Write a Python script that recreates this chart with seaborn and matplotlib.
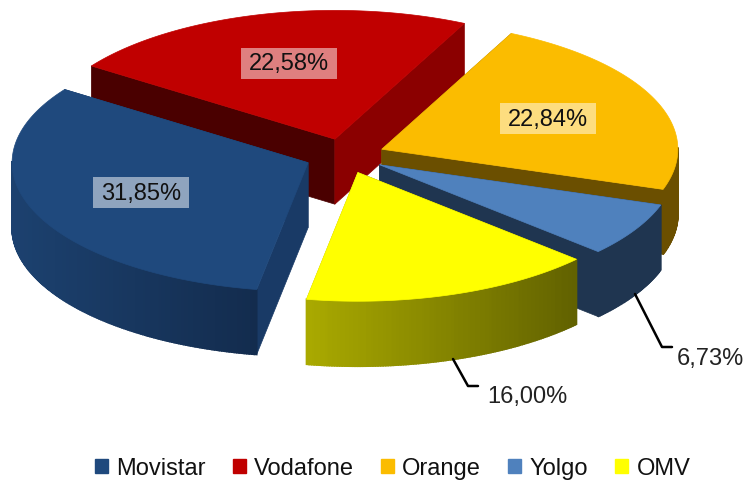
import numpy as np
import matplotlib
matplotlib.use("Agg")
import matplotlib.pyplot as plt
from matplotlib.patches import Patch, Rectangle
import seaborn as sns

# --- DATA ---
operators = ["Movistar", "Vodafone", "Orange", "Yolgo", "OMV"]
shares = [31.85, 22.58, 22.84, 6.73, 16.00]
share_labels = ["31,85%", "22,58%", "22,84%", "6,73%", "16,00%"]

# --- COLOURS ---
top_colors = ["#1f497d", "#c00000", "#fbbc00", "#4f81bd", "#ffff00"]
wall_from = ["#1c416f", "#8b0000", "#6b4f00", "#1f3550", "#a9a900"]
wall_to = ["#132c4e", "#8b0000", "#6b4f00", "#1f3550", "#626200"]
cut_start_colors = ["#193a66", "#4a0000", "#8b6600", "#1f3550", "#626200"]
cut_end_colors = ["#193a66", "#8b0000", "#6b4f00", "#1f3550", "#a9a900"]

# --- LAYOUT (pixels of the 750x481 picture) ---
CENTER = (345, 157)
RADIUS = 296
SQUASH = 0.435
EXPLODE = 40
DEPTH = 65
START_ANGLE = -100
DRAW_ORDER = [1, 2, 3, 0, 4]
INSIDE_LABEL_AT = 0.61
LABEL_BOX = (96, 31)
leaders = {
    3: ([635, 662, 672], [295, 348, 348], (677, 359)),
    4: ([453, 468, 478], [360, 387, 387], (487, 397)),
}

sns.set_theme(style="white")
plt.rcParams["font.family"] = ["Liberation Sans", "DejaVu Sans"]

fig, ax = plt.subplots(figsize=(7.5, 4.81), dpi=100)
fig.subplots_adjust(left=0, right=1, top=1, bottom=0)
ax.set_xlim(0, 750)
ax.set_ylim(481, 0)
ax.set_axis_off()


def ellipse_point(apex, angle):
    rad = np.radians(angle)
    return apex[0] + RADIUS * np.cos(rad), apex[1] - RADIUS * SQUASH * np.sin(rad)


def draw_cut(apex, end, color):
    xs = [apex[0], end[0], end[0], apex[0]]
    ys = [apex[1], end[1], end[1] + DEPTH, apex[1] + DEPTH]
    ax.fill(xs, ys, color=color, lw=0.5)


# pie goes clockwise, each slice takes its angle from its share
sweeps = np.array(shares) / sum(shares) * 360
starts = START_ANGLE - np.concatenate([[0], np.cumsum(sweeps)[:-1]])

apexes = []
for start, sweep in zip(starts, sweeps):
    mid = np.radians(start - sweep / 2)
    apexes.append((CENTER[0] + EXPLODE * np.cos(mid),
                   CENTER[1] - EXPLODE * SQUASH * np.sin(mid)))

for i in DRAW_ORDER:
    apex = apexes[i]
    angles = np.linspace(starts[i], starts[i] - sweeps[i], int(sweeps[i] * 2) + 2)
    arc_x, arc_y = ellipse_point(apex, angles)

    draw_cut(apex, (arc_x[0], arc_y[0]), cut_start_colors[i])
    draw_cut(apex, (arc_x[-1], arc_y[-1]), cut_end_colors[i])

    # outer wall, only the front half shows, shaded left to right in thin strips
    front = np.sin(np.radians(angles)) <= 0.02
    if front.sum() > 1:
        wall_x, wall_y = arc_x[front], arc_y[front]
        shades = sns.blend_palette([wall_from[i], wall_to[i]], 64)
        span = wall_x.max() - wall_x.min()
        for j in range(len(wall_x) - 1):
            pos = (0.5 * (wall_x[j] + wall_x[j + 1]) - wall_x.min()) / span
            ax.fill([wall_x[j], wall_x[j + 1], wall_x[j + 1], wall_x[j]],
                    [wall_y[j], wall_y[j + 1], wall_y[j + 1] + DEPTH, wall_y[j] + DEPTH],
                    color=shades[min(int(pos * 64), 63)], lw=1.2)

    ax.fill(np.r_[apex[0], arc_x], np.r_[apex[1], arc_y], color=top_colors[i], lw=0.5)

# labels, the big slices carry theirs on top
for i in [0, 1, 2]:
    mid = np.radians(starts[i] - sweeps[i] / 2)
    x = apexes[i][0] + INSIDE_LABEL_AT * RADIUS * np.cos(mid)
    y = apexes[i][1] - INSIDE_LABEL_AT * RADIUS * SQUASH * np.sin(mid)
    ax.add_patch(Rectangle((x - LABEL_BOX[0] / 2, y - LABEL_BOX[1] / 2), *LABEL_BOX,
                           fc="white", ec="none", alpha=0.5))
    ax.text(x, y, share_labels[i], fontsize=17, color="#111111", ha="center", va="center")

for i, (lx, ly, pos) in leaders.items():
    ax.plot(lx, ly, color="black", lw=1.8, solid_joinstyle="round")
    ax.text(pos[0], pos[1], share_labels[i], fontsize=17, color="#222222", ha="left", va="center")

handles = [Patch(color=c, label=n) for c, n in zip(top_colors, operators)]
ax.legend(handles=handles, ncol=5, loc="center", bbox_to_anchor=(392.5 / 750, 1 - 469 / 481),
          frameon=False, fontsize=17, handlelength=0.55, handleheight=0.55,
          handletextpad=0.35, columnspacing=1.15, labelcolor="#111111",
          borderpad=0, borderaxespad=0)

fig.savefig("out.png", dpi=100)
